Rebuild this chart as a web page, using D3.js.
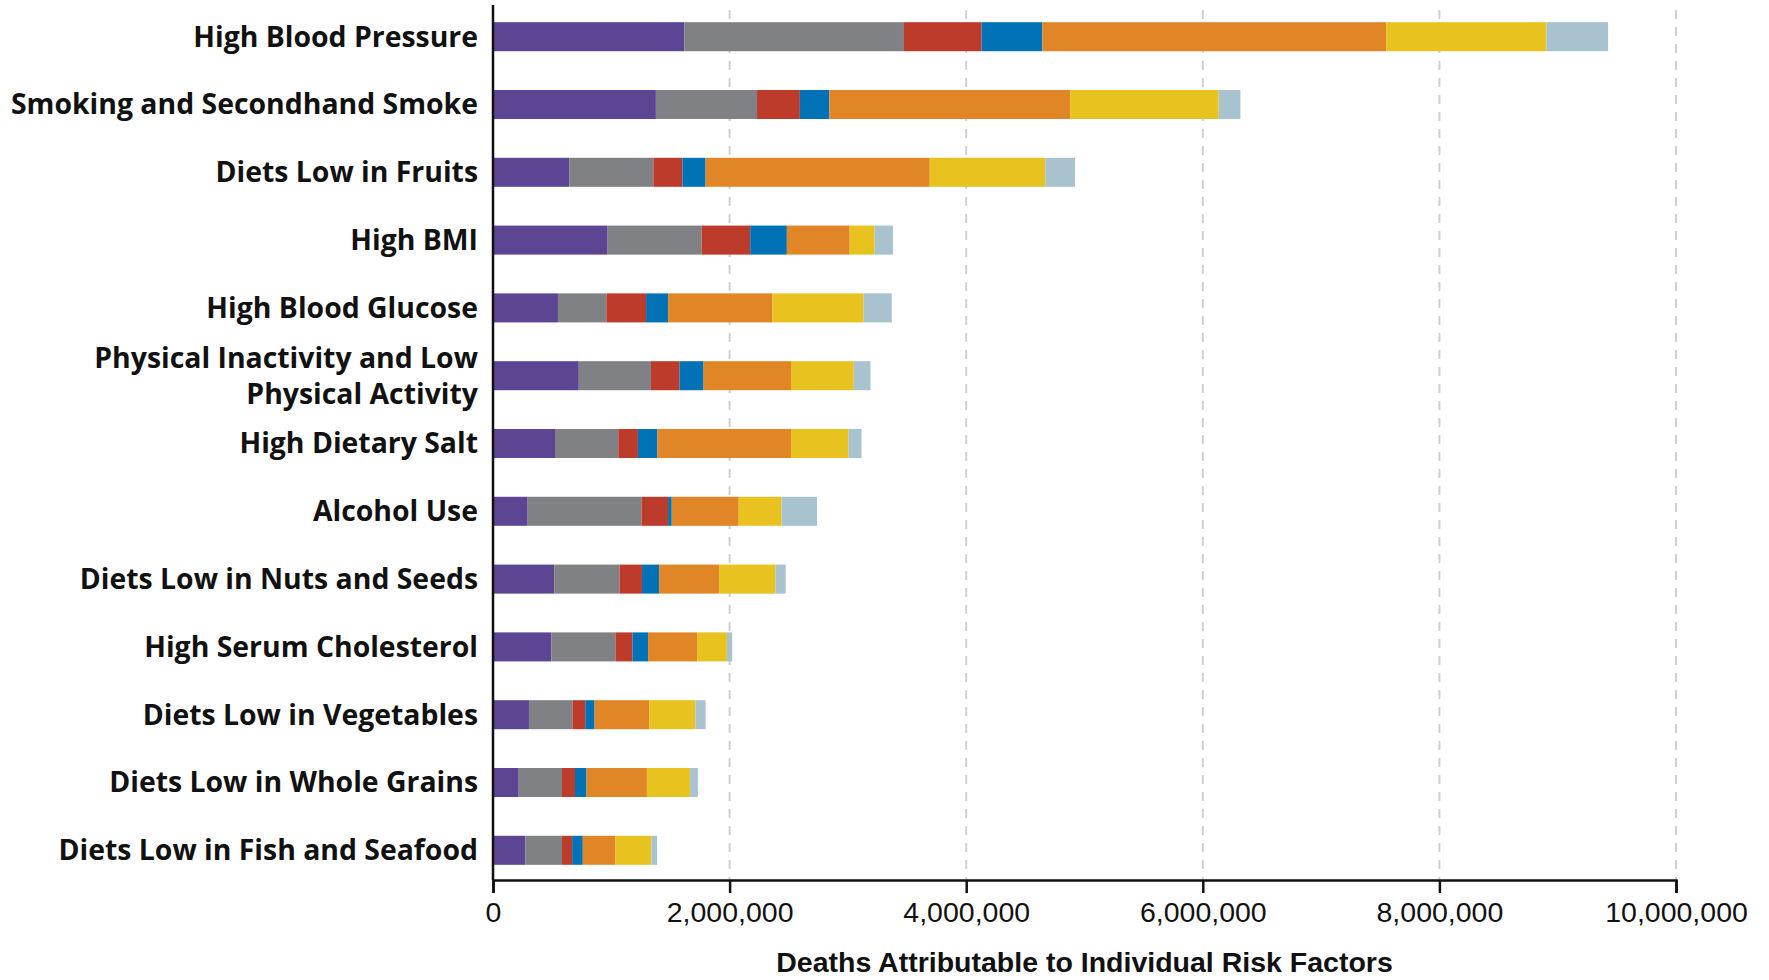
<!DOCTYPE html>
<html>
<head>
<meta charset="utf-8">
<script src="https://cdn.jsdelivr.net/npm/d3@7"></script>
<style>
  html, body { margin: 0; padding: 0; background: #ffffff; }
  svg { display: block; }
</style>
</head>
<body>
<svg id="chart" width="1769" height="980"></svg>
<script>
// ---- Data (deaths) ----
const categories = [
  "High Blood Pressure",
  "Smoking and Secondhand Smoke",
  "Diets Low in Fruits",
  "High BMI",
  "High Blood Glucose",
  "Physical Inactivity and Low Physical Activity",
  "High Dietary Salt",
  "Alcohol Use",
  "Diets Low in Nuts and Seeds",
  "High Serum Cholesterol",
  "Diets Low in Vegetables",
  "Diets Low in Whole Grains",
  "Diets Low in Fish and Seafood"
];
const seriesNames = ["S1", "S2", "S3", "S4", "S5", "S6", "S7"];
const s1 = [1618000, 1377000, 645000, 969000, 549000, 725000, 524000, 293000, 518000, 493000, 304000, 217000, 273000];
const s2 = [1856000, 855000, 711000, 794000, 410000, 610000, 535000, 963000, 552000, 542000, 369000, 366000, 310000];
const s3 = [656000, 362000, 245000, 411000, 335000, 242000, 166000, 224000, 189000, 145000, 107000, 110000, 86000];
const s4 = [514000, 249000, 196000, 310000, 186000, 203000, 165000, 31000, 145000, 131000, 79000, 97000, 90000];
const s5 = [2908000, 2036000, 1895000, 531000, 883000, 739000, 1129000, 566000, 507000, 414000, 462000, 511000, 276000];
const s6 = [1353000, 1256000, 976000, 211000, 770000, 531000, 486000, 362000, 476000, 252000, 390000, 365000, 304000];
const s7 = [521000, 183000, 252000, 155000, 238000, 141000, 110000, 300000, 87000, 45000, 86000, 66000, 48000];
const xTicks = [0, 2000000, 4000000, 6000000, 8000000, 10000000];
const xTitle = "Deaths Attributable to Individual Risk Factors";
const labelLines = {
  "Physical Inactivity and Low Physical Activity": ["Physical Inactivity and Low", "Physical Activity"]
};

// ---- Styling ----
const colors = ["#5C4593", "#808184", "#BC3B2A", "#0072B5", "#E08627", "#E8C31F", "#A9C2CF"];

const svg = d3.select("#chart");
svg.append("rect").attr("width", 1769).attr("height", 980).attr("fill", "#fff");

const left = 493, right = 1676, axisY = 880;

const table = categories.map((c, i) => {
  const row = { category: c };
  [s1, s2, s3, s4, s5, s6, s7].forEach((arr, k) => row[seriesNames[k]] = arr[i]);
  return row;
});
const stacked = d3.stack().keys(seriesNames)(table);

const x = d3.scaleLinear().domain([0, 10000000]).range([left, right]);
const y = d3.scaleBand().domain(categories).range([2.8, 884.2])
  .paddingInner(0.572).paddingOuter(0.286);

// gridlines
svg.append("g").selectAll("line").data(xTicks.slice(1)).join("line")
  .attr("x1", d => x(d)).attr("x2", d => x(d))
  .attr("y1", 10).attr("y2", axisY)
  .attr("stroke", "#d0d0d0").attr("stroke-width", 2)
  .attr("stroke-dasharray", "9,8");

// bars
svg.append("g").selectAll("g").data(stacked).join("g")
  .attr("fill", (d, i) => colors[i])
  .selectAll("rect").data(d => d).join("rect")
  .attr("x", d => x(d[0]))
  .attr("width", d => Math.max(0, x(d[1]) - x(d[0])))
  .attr("y", d => y(d.data.category))
  .attr("height", y.bandwidth());

// left axis line
svg.append("line").attr("x1", left).attr("x2", left).attr("y1", 5).attr("y2", axisY)
  .attr("stroke", "#111").attr("stroke-width", 2.5);

// x axis
const xAxis = d3.axisBottom(x).tickValues(xTicks).tickFormat(d3.format(",")).tickSize(13).tickPadding(9);
const gx = svg.append("g").attr("transform", `translate(0,${axisY})`).call(xAxis);
gx.select(".domain").attr("stroke", "#111").attr("stroke-width", 2.5);
gx.selectAll(".tick line").attr("stroke", "#111").attr("stroke-width", 2.5);
gx.selectAll(".tick text")
  .attr("font-family", "'Liberation Sans', Arial, sans-serif")
  .attr("font-size", 28.5).attr("fill", "#111");

// y labels
const yl = svg.append("g").attr("font-family", "'Open Sans', Lato, sans-serif")
  .attr("font-weight", 700).attr("font-size", 28.4).attr("fill", "#111")
  .attr("text-anchor", "end");
categories.forEach(c => {
  const cy = y(c) + y.bandwidth() / 2;
  const lines = labelLines[c] || [c];
  const t = yl.append("text").attr("x", 478).attr("y", cy);
  lines.forEach((ln, j) => {
    t.append("tspan").attr("x", 478)
      .attr("y", cy + (j - (lines.length - 1) / 2) * 36)
      .attr("dy", "0.35em").text(ln);
  });
});

// x title
svg.append("text").attr("x", (left + right) / 2).attr("y", 962).attr("dy", "0.35em")
  .attr("text-anchor", "middle")
  .attr("font-family", "'Liberation Sans', Arial, sans-serif")
  .attr("font-weight", 700).attr("font-size", 28.5).attr("fill", "#111")
  .text(xTitle);
</script>
</body>
</html>
